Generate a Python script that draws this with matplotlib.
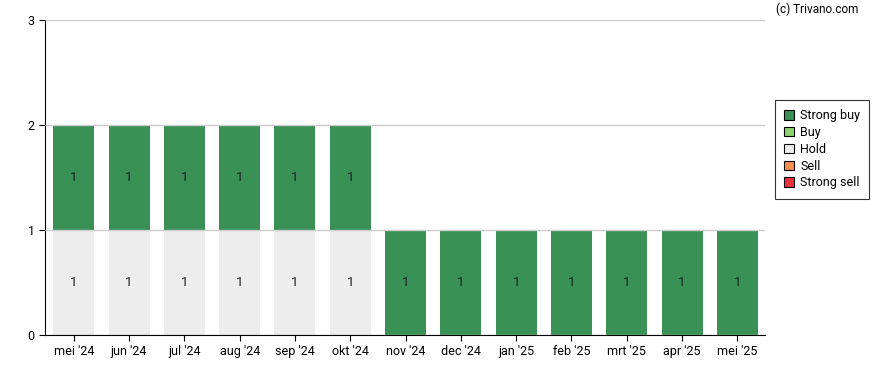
import matplotlib
matplotlib.use("Agg")
import matplotlib.pyplot as plt
from matplotlib.patches import Patch

months = ["mei '24", "jun '24", "jul '24", "aug '24", "sep '24", "okt '24",
          "nov '24", "dec '24", "jan '25", "feb '25", "mrt '25", "apr '25", "mei '25"]
strong_sell = [0, 0, 0, 0, 0, 0, 0, 0, 0, 0, 0, 0, 0]
sell = [0, 0, 0, 0, 0, 0, 0, 0, 0, 0, 0, 0, 0]
hold = [1, 1, 1, 1, 1, 1, 0, 0, 0, 0, 0, 0, 0]
buy = [0, 0, 0, 0, 0, 0, 0, 0, 0, 0, 0, 0, 0]
strong_buy = [1, 1, 1, 1, 1, 1, 1, 1, 1, 1, 1, 1, 1]

series = [
    ("Strong sell", strong_sell, "#e8323f"),
    ("Sell", sell, "#f98e4d"),
    ("Hold", hold, "#ededed"),
    ("Buy", buy, "#8ed26c"),
    ("Strong buy", strong_buy, "#399155"),
]

plt.rcParams["font.family"] = ["Roboto", "DejaVu Sans"]

fig = plt.figure(figsize=(8.88, 3.70), dpi=100)
ax = fig.add_axes([45 / 888, 35 / 370, 720 / 888, 315 / 370])

x = list(range(len(months)))
bottom = [0] * len(months)
for name, vals, color in series:
    ax.bar(x, vals, bottom=bottom, width=0.74, color=color, zorder=1)
    for i, v in enumerate(vals):
        if v > 0:
            ax.text(i, bottom[i] + v / 2, str(v), ha="center", va="center",
                    fontsize=9.5, color="#222222", zorder=3)
    bottom = [b + v for b, v in zip(bottom, vals)]

ax.set_xlim(-0.52, len(months) - 0.5)
ax.set_ylim(0, 3)
ax.set_yticks([0, 1, 2, 3])
ax.set_xticks(x)
ax.set_xticklabels(months)
ax.tick_params(axis="both", labelsize=9, length=4, color="black")
ax.yaxis.grid(True, color="#cccccc", linewidth=1, zorder=2)
ax.set_axisbelow(False)
for s in ["top", "right"]:
    ax.spines[s].set_visible(False)

handles = [Patch(facecolor=c, edgecolor="black", linewidth=0.8, label=n)
           for n, _, c in reversed(series)]
leg = fig.legend(handles=handles, loc="upper left",
                 bbox_to_anchor=(775 / 888, 1 - 100 / 370),
                 fontsize=9, frameon=True, fancybox=False,
                 handlelength=0.75, handleheight=0.75, handletextpad=0.5,
                 labelspacing=0.3, borderpad=0.75, borderaxespad=0)
leg.get_frame().set_edgecolor("black")
leg.get_frame().set_linewidth(0.8)

fig.text(858 / 888, 1 - 9 / 370, "(c) Trivano.com", ha="right", va="center", fontsize=8.5)

fig.savefig("out.png", dpi=100)
